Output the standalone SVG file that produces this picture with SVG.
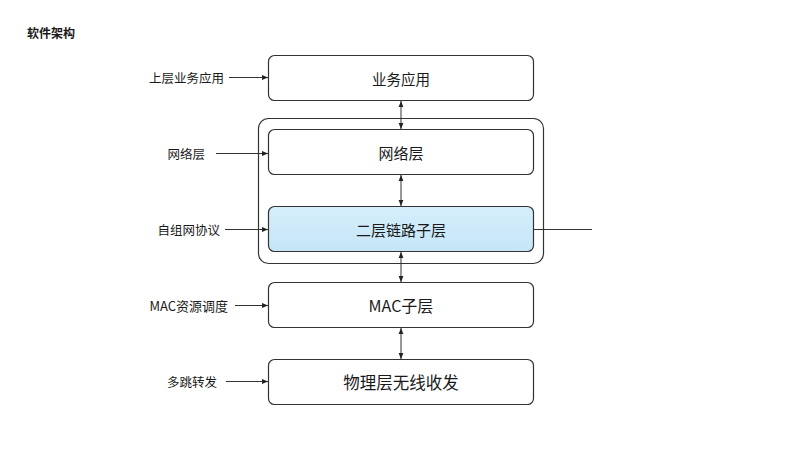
<svg xmlns="http://www.w3.org/2000/svg" width="800" height="449" viewBox="0 0 800 449">
<defs>
<marker id="ah" viewBox="0 0 10 10" refX="10" refY="5" markerWidth="6" markerHeight="6" orient="auto-start-reverse"><path d="M0,1 L10,5 L0,9 z" fill="#222"/></marker>
<linearGradient id="blue" x1="0" y1="0" x2="0" y2="1"><stop offset="0" stop-color="#d6eefb"/><stop offset="1" stop-color="#c5e6f8"/></linearGradient>
<style>
.box{fill:#fff;stroke:#333;stroke-width:1.2}
.lbl{font-family:"Noto Sans CJK SC","Noto Sans",sans-serif;font-size:15px;fill:#1a1a1a;text-anchor:middle;dominant-baseline:central}
.side{font-family:"Noto Sans CJK SC","Noto Sans",sans-serif;font-size:12.5px;fill:#1a1a1a;text-anchor:end;dominant-baseline:central}
.ln{stroke:#333;stroke-width:1;fill:none}
</style>
</defs>
<rect width="800" height="449" fill="#fff"/>
<text x="27" y="32" font-family="'Noto Sans CJK SC',sans-serif" font-size="12" font-weight="bold" fill="#1a1a1a" dominant-baseline="central">软件架构</text>
<g id="container"><rect x="258.5" y="118.5" width="285" height="145" rx="10" fill="none" stroke="#333" stroke-width="1.2"/></g>
<g id="app"><rect class="box" x="268.5" y="55.5" width="265" height="45" rx="6"/><text class="lbl" x="401" y="78" style="font-size:14.5px">业务应用</text></g>
<g id="net"><rect class="box" x="268.5" y="129.5" width="265" height="45" rx="6"/><text class="lbl" x="401" y="152">网络层</text></g>
<g id="l2"><rect class="box" x="268.5" y="206.5" width="265" height="45" rx="6" style="fill:url(#blue)"/><text class="lbl" x="401" y="229">二层链路子层</text></g>
<g id="mac"><rect class="box" x="268.5" y="282.5" width="265" height="45" rx="6"/><text class="lbl" x="401" y="305" style="font-size:16px">MAC子层</text></g>
<g id="phy"><rect class="box" x="268.5" y="359.5" width="265" height="45" rx="6"/><text class="lbl" x="401" y="382" style="font-size:16.5px">物理层无线收发</text></g>
<g id="side-labels">
<text class="side" x="224" y="77">上层业务应用</text>
<text class="side" x="205" y="153">网络层</text>
<text class="side" x="220" y="229">自组网协议</text>
<text class="side" x="228" y="305" style="font-size:13px">MAC资源调度</text>
<text class="side" x="217" y="381">多跳转发</text>
</g>
<g id="connectors">
<line class="ln" x1="401" y1="101" x2="401" y2="129" marker-start="url(#ah)" marker-end="url(#ah)"/>
<line class="ln" x1="401" y1="175" x2="401" y2="206" marker-start="url(#ah)" marker-end="url(#ah)"/>
<line class="ln" x1="401" y1="252" x2="401" y2="282" marker-start="url(#ah)" marker-end="url(#ah)"/>
<line class="ln" x1="401" y1="328" x2="401" y2="359" marker-start="url(#ah)" marker-end="url(#ah)"/>
<line class="ln" x1="229" y1="77.5" x2="268" y2="77.5" marker-end="url(#ah)"/>
<line class="ln" x1="216" y1="153.5" x2="268" y2="153.5" marker-end="url(#ah)"/>
<line class="ln" x1="225" y1="229.5" x2="268" y2="229.5" marker-end="url(#ah)"/>
<line class="ln" x1="235" y1="305.5" x2="268" y2="305.5" marker-end="url(#ah)"/>
<line class="ln" x1="226" y1="381.5" x2="268" y2="381.5" marker-end="url(#ah)"/>
<line class="ln" x1="534" y1="229.5" x2="592" y2="229.5"/>
</g>
</svg>
